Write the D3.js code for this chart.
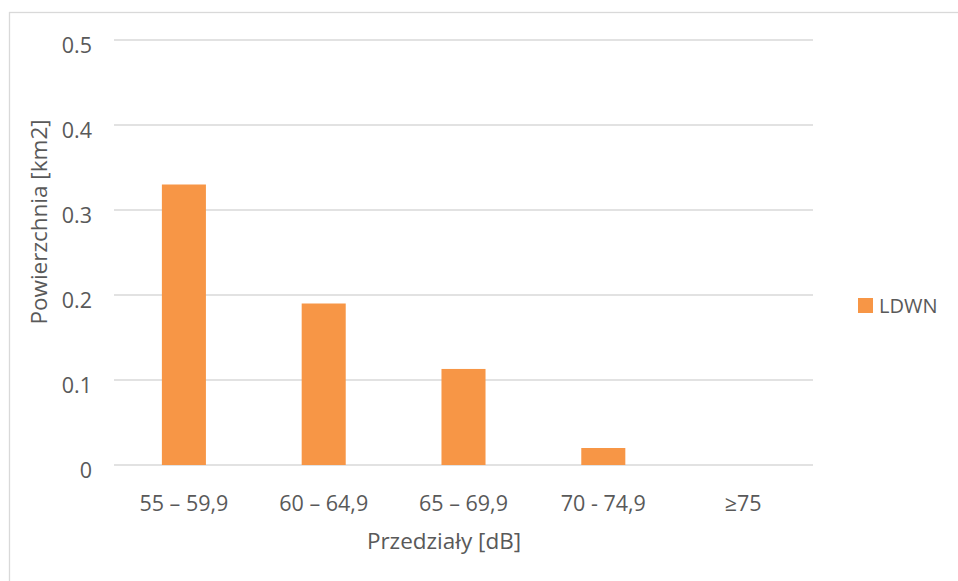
<!DOCTYPE html>
<html>
<head>
<meta charset="utf-8">
<script src="https://cdn.jsdelivr.net/npm/d3@7"></script>
<style>
  html, body { margin: 0; padding: 0; background: #fff; }
  svg { display: block; }
  text { font-family: "Open Sans", "Noto Sans", sans-serif; fill: #595959; }
</style>
</head>
<body>
<svg id="chart" width="958" height="581"></svg>
<script>
// Area of noise exposure ranges (LDWN indicator)
const categories = ["55 – 59,9", "60 – 64,9", "65 – 69,9", "70 - 74,9", "≥75"];
const values = [0.33, 0.19, 0.113, 0.02, 0];
const yTicks = [0, 0.1, 0.2, 0.3, 0.4, 0.5];
const yTickLabels = ["0", "0.1", "0.2", "0.3", "0.4", "0.5"];
const seriesName = "LDWN";
const xTitle = "Przedziały [dB]";
const yTitle = "Powierzchnia [km2]";

const svg = d3.select("#chart");
const W = 958, H = 581;
const plot = { left: 114, right: 813, top: 40, bottom: 465 };

// Chart frame
svg.append("rect")
  .attr("x", 9.5).attr("y", 12.5)
  .attr("width", W + 10).attr("height", H + 10)
  .attr("fill", "#fff").attr("stroke", "#d9d9d9").attr("stroke-width", 1.3);

const x = d3.scaleBand().domain(categories).range([plot.left, plot.right]).paddingInner(0.685).paddingOuter(0.3425);
const y = d3.scaleLinear().domain([0, 0.5]).range([plot.bottom, plot.top]);

// Horizontal gridlines
svg.append("g").selectAll("line").data(yTicks).join("line")
  .attr("x1", plot.left).attr("x2", plot.right)
  .attr("y1", d => y(d)).attr("y2", d => y(d))
  .attr("stroke", "#d9d9d9").attr("stroke-width", 1.7);

// Bars
svg.append("g").selectAll("rect").data(values).join("rect")
  .attr("x", (d, i) => x(categories[i]))
  .attr("width", x.bandwidth())
  .attr("y", d => y(d))
  .attr("height", d => y(0) - y(d))
  .attr("fill", "#f79646");

// Y tick labels
svg.append("g").selectAll("text").data(yTicks).join("text")
  .attr("x", 92).attr("y", d => y(d) + 12.5)
  .attr("text-anchor", "end").attr("font-size", 21.5)
  .text((d, i) => yTickLabels[i]);

// Category labels
svg.append("g").selectAll("text").data(categories).join("text")
  .attr("x", d => x(d) + x.bandwidth() / 2).attr("y", 511)
  .attr("text-anchor", "middle").attr("font-size", 21.5)
  .text(d => d);

// Axis titles
svg.append("text")
  .attr("x", 444).attr("y", 549)
  .attr("text-anchor", "middle").attr("font-size", 22.5)
  .text(xTitle);

svg.append("text")
  .attr("transform", "translate(47,222) rotate(-90)")
  .attr("text-anchor", "middle").attr("font-size", 22.5)
  .text(yTitle);

// Legend
svg.append("rect").attr("x", 858).attr("y", 298).attr("width", 15).attr("height", 15).attr("fill", "#f79646");
svg.append("text").attr("x", 879).attr("y", 312.5).attr("font-size", 20).text(seriesName);
</script>
</body>
</html>
